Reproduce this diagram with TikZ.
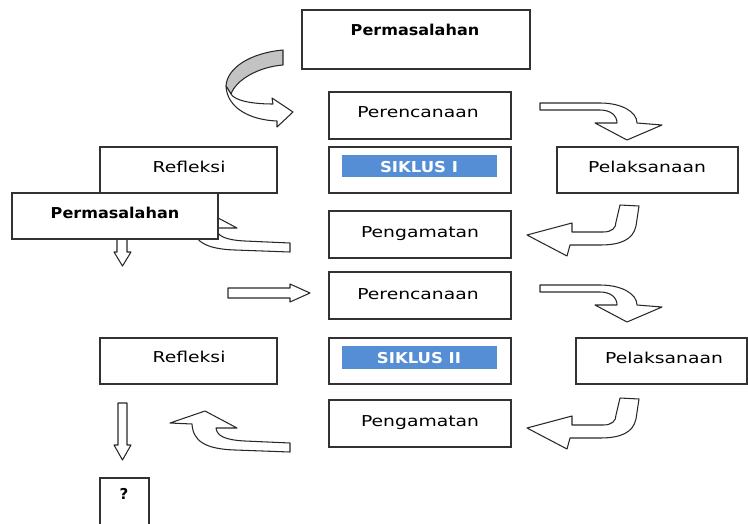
\documentclass[tikz,border=0pt]{standalone}
\usepackage{fontspec}
\setmainfont{DejaVu Sans}
\definecolor{boxline}{RGB}{50,50,50}
\definecolor{arrline}{RGB}{40,40,40}
\definecolor{siklus}{RGB}{85,142,213}
\definecolor{ribbon}{RGB}{195,195,195}
\tikzset{
 box/.style={draw=boxline, line width=1.2pt, fill=white, inner sep=0pt, rectangle},
 lbl/.style={anchor=base, inner sep=0pt, font=\fontsize{15}{18}\selectfont},
 blbl/.style={anchor=base, inner sep=0pt, font=\fontsize{15}{18}\selectfont\bfseries},
 blk/.style={draw=arrline, line width=1.05pt, fill=white, line join=round},
 sikbar/.style={fill=siklus, draw=none, inner sep=0pt, minimum width=155pt, minimum height=22pt},
}
\newcommand{\wide}[1]{\scalebox{1.25}[1]{#1}}
\begin{document}
\begin{tikzpicture}[x=1pt,y=-1pt]
\useasboundingbox (0,0) rectangle (748,523);

% ribbon arrow near top
\path[blk, fill=ribbon] (283,50) .. controls (250,53) and (227,68) .. (226,86) -- (231,94) .. controls (236,80) and (258,67) .. (283,65) -- cycle;
\path[blk] (226,86) .. controls (227,108) and (250,120) .. (277,121) -- (277,127) -- (293,112) -- (272,98) -- (273,104) .. controls (250,104) and (234,100) .. (231,94) -- cycle;

% boxes
\node[box, minimum width=228pt, minimum height=59pt] (permT) at (416,39.5) {};
\node[box, minimum width=182pt, minimum height=47pt] (pren1) at (420,115.5) {};
\node[box, minimum width=177pt, minimum height=46pt] (ref1) at (188.5,170) {};
\node[box, minimum width=182pt, minimum height=46pt] (sik1) at (420,170) {};
\node[box, minimum width=181pt, minimum height=46pt] (pel1) at (647.5,170) {};
\node[box, minimum width=182pt, minimum height=47pt] (peng1) at (420,234.5) {};
\node[box, minimum width=182pt, minimum height=47pt] (pren2) at (420,295.5) {};
\node[box, minimum width=177pt, minimum height=46pt] (ref2) at (188.5,361) {};
\node[box, minimum width=182pt, minimum height=46pt] (sik2) at (420,361) {};
\node[box, minimum width=171pt, minimum height=46pt] (pel2) at (661.5,361) {};
\node[box, minimum width=182pt, minimum height=47pt] (peng2) at (420,423.5) {};
\node[box, minimum width=49pt, minimum height=52pt] (qbox) at (124.5,504) {};

% siklus bars
\node[sikbar] (bar1) at (419.5,166) {};
\node[sikbar, minimum height=23pt] (bar2) at (419.5,357.5) {};

% right-down arrows
\foreach \dy in {0,182}{
\begin{scope}[yshift=-\dy pt]
\path[blk] (540,103) -- (600,103) .. controls (622,103) and (637,112) .. (637,123) -- (662,125) -- (627,140) -- (595,123) -- (617,123) .. controls (617,115) and (610,110) .. (600,110) -- (540,110) -- cycle;
\end{scope}}

% left J arrows
\foreach \dy in {0,193}{
\begin{scope}[yshift=-\dy pt]
\path[blk] (620,205) -- (639,206) -- (636,226) .. controls (633,240) and (620,245) .. (600,245) -- (570,245) -- (567,256) -- (527,235) -- (572,223) -- (572,232) -- (603,232) .. controls (612,232) and (616,228) .. (616,222) -- cycle;
\end{scope}}

% up-left curved arrows
\foreach \dy in {0,-200}{
\begin{scope}[yshift=-\dy pt]
\path[blk] (192,424) .. controls (193,441) and (205,449) .. (235,450) -- (290,452) -- (290,443) -- (245,441) .. controls (225,440) and (217,436) .. (216,428) -- (237,428) -- (205,411) -- (170,423) -- cycle;
\end{scope}}

% straight arrow
\path[blk] (228,288) -- (290,288) -- (290,284) -- (310,293) -- (290,302) -- (290,298) -- (228,298) -- cycle;

% down arrows
\path[blk] (117,239) -- (117,252) -- (114,252) -- (122.5,266) -- (131,252) -- (127,252) -- (127,239);
\path[blk] (118,403) -- (127,403) -- (127,445) -- (131,445) -- (122.5,460) -- (114,445) -- (118,445) -- cycle;

% left Permasalahan box (on top)
\node[box, minimum width=206pt, minimum height=46pt] (permL) at (115,216) {};

% texts
\node[blbl] (tpermT) at (415,35) {\scalebox{1.07}[1]{Permasalahan}};
\node[lbl] (tpren1) at (418,117) {\wide{Perencanaan}};
\node[lbl] (tref1) at (189,172) {\wide{Refleksi}};
\node[blbl, text=white] (tsik1) at (419,172) {\scalebox{1.1}[1]{SIKLUS I}};
\node[lbl] (tpel1) at (647,172) {\wide{Pelaksanaan}};
\node[blbl] (tpermL) at (115,218) {\scalebox{1.07}[1]{Permasalahan}};
\node[lbl] (tpeng1) at (420,237) {\wide{Pengamatan}};
\node[lbl] (tpren2) at (418,299) {\wide{Perencanaan}};
\node[lbl] (tref2) at (189,362) {\wide{Refleksi}};
\node[blbl, text=white] (tsik2) at (419,363) {\scalebox{1.1}[1]{SIKLUS II}};
\node[lbl] (tpel2) at (664,363) {\wide{Pelaksanaan}};
\node[lbl] (tpeng2) at (420,426) {\wide{Pengamatan}};
\node[blbl] (tq) at (124,499) {?};
\end{tikzpicture}
\end{document}
